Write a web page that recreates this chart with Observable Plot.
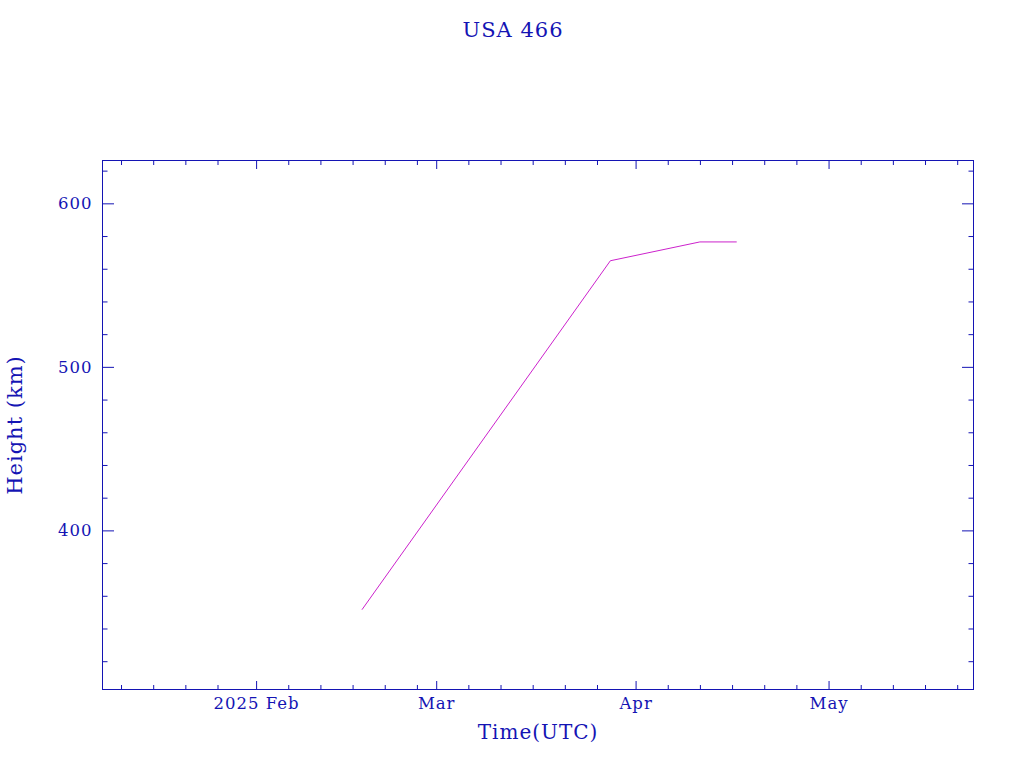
<!DOCTYPE html>
<html><head><meta charset="utf-8">
<script src="https://cdn.jsdelivr.net/npm/d3@7"></script>
<script src="https://cdn.jsdelivr.net/npm/@observablehq/plot@0.6"></script>
<style>body{margin:0;background:#fff;} svg{display:block}</style>
</head><body><div id="chart"></div>
<script>
// Data
const dates = ["2025-02-17T10:00Z", "2025-03-28T00:00Z", "2025-04-10T22:00Z", "2025-04-16T14:00Z"];
const heights = [352, 565.2, 576.7, 576.7];

// Axes
const xDomain = ["2025-01-08T01:00Z", "2025-05-23T11:00Z"];
const yDomain = [303, 626.5];
const majorXTicks = ["2025-02-01", "2025-03-01", "2025-04-01", "2025-05-01"];
const majorXLabels = ["2025 Feb", "Mar", "Apr", "May"];
const minorTickMonths = ["2025-01", "2025-02", "2025-03", "2025-04", "2025-05"];
const minorTickDays = ["06", "11", "16", "21", "26"];
const majorYTicks = [400, 500, 600];
const minorYTicks = [320, 340, 360, 380, 420, 440, 460, 480, 520, 540, 560, 580, 620];

const titleText = "USA 466";
const xLabelText = "Time(UTC)";
const yLabelText = "Height (km)";

const C = "#1414b4";
const LINE = "#cc22cc";

const x0 = new Date(xDomain[0]), x1 = new Date(xDomain[1]);
const majorX = majorXTicks.map(d => new Date(d + "T00:00Z"));
const labelMap = new Map(majorX.map((d, i) => [+d, majorXLabels[i]]));
const minorX = minorTickMonths.flatMap(m => minorTickDays.map(d => new Date(`${m}-${d}T00:00Z`)))
  .filter(d => d >= x0 && d <= x1);
const data = dates.map((d, i) => ({date: new Date(d), height: heights[i]}));
const blank = () => "";

const chart = Plot.plot({
  width: 1024, height: 768,
  marginLeft: 102, marginRight: 51, marginTop: 160, marginBottom: 79,
  style: {fontFamily: "DejaVu Serif", fontSize: "16px", color: C, background: "#fff", letterSpacing: "1px"},
  x: {type: "utc", domain: [x0, x1]},
  y: {domain: yDomain},
  marks: [
    Plot.frame({stroke: C}),
    // bottom/top ticks (inward)
    Plot.axisX(majorX, {anchor: "bottom", tickSize: -8, tickFormat: blank, label: null}),
    Plot.axisX(minorX, {anchor: "bottom", tickSize: -4, tickFormat: blank, label: null}),
    Plot.axisX(majorX, {anchor: "top", tickSize: -8, tickFormat: blank, label: null}),
    Plot.axisX(minorX, {anchor: "top", tickSize: -4, tickFormat: blank, label: null}),
    Plot.axisX(majorX, {anchor: "bottom", tickSize: 0, tickPadding: 8, fontSize: 16.5, tickFormat: d => labelMap.get(+d), label: null}),
    // left/right ticks (inward)
    Plot.axisY(majorYTicks, {anchor: "left", tickSize: -12, tickFormat: blank, label: null}),
    Plot.axisY(minorYTicks, {anchor: "left", tickSize: -5.5, tickFormat: blank, label: null}),
    Plot.axisY(majorYTicks, {anchor: "right", tickSize: -12, tickFormat: blank, label: null}),
    Plot.axisY(minorYTicks, {anchor: "right", tickSize: -5.5, tickFormat: blank, label: null}),
    Plot.axisY(majorYTicks, {anchor: "left", tickSize: 0, tickPadding: 10, fontSize: 16.5, tickFormat: d => String(d), label: null}),
    // series
    Plot.line(data, {x: "date", y: "height", stroke: LINE, strokeWidth: 1}),
    // texts
    Plot.text([titleText], {frameAnchor: "top", dx: -25, dy: -130, lineAnchor: "middle", textAnchor: "middle", fontSize: 21, fill: C}),
    Plot.text([xLabelText], {frameAnchor: "bottom", dy: 43, lineAnchor: "middle", textAnchor: "middle", fontSize: 20, fill: C}),
    Plot.text([yLabelText], {frameAnchor: "left", dx: -87, rotate: -90, lineAnchor: "middle", textAnchor: "middle", fontSize: 21, fill: C})
  ]
});
document.getElementById("chart").appendChild(chart);
</script>
</body></html>
